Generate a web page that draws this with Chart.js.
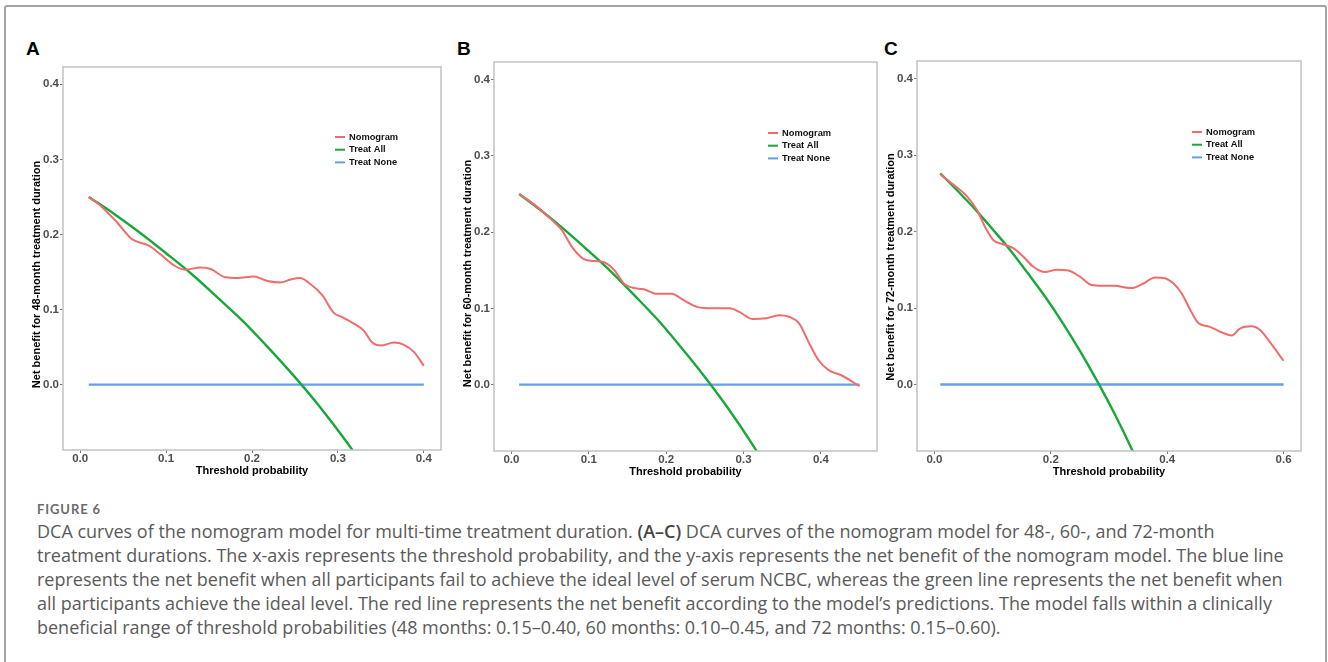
<!DOCTYPE html>
<html lang="en">
<head>
<meta charset="UTF-8">
<title>Figure 6 - DCA curves</title>
<script src="https://cdn.jsdelivr.net/npm/chart.js/dist/chart.umd.min.js"></script>
<style>
body {
    margin: 0;
    width: 1328px;
    height: 662px;
    overflow: hidden;
    background: #fff;
    position: relative;
}
.outer {
    position: absolute;
    left: 4px;
    top: 5px;
    width: 1323px;
    height: 720px;
    box-sizing: border-box;
    border: 2px solid #a3a3a3;
    border-radius: 3px;
}
canvas {
    position: absolute;
}
.tag {
    position: absolute;
    top: 39px;
    font: bold 19px/19px "Liberation Sans", Arial, sans-serif;
    color: #000;
}
.figlabel {
    position: absolute;
    left: 37px;
    top: 502px;
    font: bold 13px/15px Lato, sans-serif;
    letter-spacing: 0.9px;
    color: #6b6b6b;
}
.caption {
    position: absolute;
    left: 37px;
    top: 520px;
    font: 18px/23.9px "Open Sans", sans-serif;
    color: #5a5a5a;
    white-space: nowrap;
}
.caption b { color: #444; font-weight: 600; }
</style>
</head>
<body>
<div class="outer"></div>

<div class="tag" style="left:26px">A</div>
<div class="tag" style="left:457px">B</div>
<div class="tag" style="left:884px">C</div>

<canvas id="chartA"></canvas>
<canvas id="chartB"></canvas>
<canvas id="chartC"></canvas>

<div class="figlabel">FIGURE 6</div>
<div class="caption">
    <div>DCA curves of the nomogram model for multi-time treatment duration. <b>(A–C)</b> DCA curves of the nomogram model for 48-, 60-, and 72-month</div>
    <div>treatment durations. The x-axis represents the threshold probability, and the y-axis represents the net benefit of the nomogram model. The blue line</div>
    <div>represents the net benefit when all participants fail to achieve the ideal level of serum NCBC, whereas the green line represents the net benefit when</div>
    <div>all participants achieve the ideal level. The red line represents the net benefit according to the model’s predictions. The model falls within a clinically</div>
    <div>beneficial range of threshold probabilities (48 months: 0.15–0.40, 60 months: 0.10–0.45, and 72 months: 0.15–0.60).</div>
</div>

<script>
// ---- data ----
const legendLabels = ['Nomogram', 'Treat All', 'Treat None'];
const yTicks = [0, 0.1, 0.2, 0.3, 0.4];
const xTicksA = [0, 0.1, 0.2, 0.3, 0.4];
const xTicksB = [0, 0.1, 0.2, 0.3, 0.4];
const xTicksC = [0, 0.2, 0.4, 0.6];

// A: 48-month
const nomogramXA = [0.010, 0.023, 0.043, 0.060, 0.080, 0.093, 0.109, 0.122, 0.140, 0.152, 0.169, 0.183, 0.202, 0.218, 0.233, 0.245, 0.256, 0.268, 0.282, 0.295, 0.305, 0.319, 0.330, 0.340, 0.350, 0.365, 0.377, 0.389, 0.400];
const nomogramYA = [0.250, 0.239, 0.216, 0.194, 0.185, 0.174, 0.159, 0.153, 0.156, 0.154, 0.143, 0.142, 0.144, 0.138, 0.136, 0.140, 0.142, 0.134, 0.119, 0.096, 0.090, 0.081, 0.072, 0.056, 0.052, 0.056, 0.053, 0.043, 0.025];
const treatAllXA = [0.01, 0.04, 0.07, 0.10, 0.13, 0.16, 0.19, 0.22, 0.25, 0.28, 0.31, 0.34];
const treatAllYA = [0.250, 0.227, 0.202, 0.175, 0.147, 0.116, 0.084, 0.048, 0.010, -0.031, -0.076, -0.125];
const treatNoneXA = [0.01, 0.40];
const treatNoneYA = [0, 0];

// B: 60-month
const nomogramXB = [0.010, 0.031, 0.052, 0.065, 0.078, 0.093, 0.107, 0.118, 0.133, 0.146, 0.157, 0.171, 0.188, 0.207, 0.222, 0.240, 0.261, 0.282, 0.295, 0.312, 0.329, 0.346, 0.359, 0.372, 0.384, 0.397, 0.410, 0.427, 0.450];
const nomogramYB = [0.250, 0.235, 0.216, 0.203, 0.181, 0.165, 0.162, 0.161, 0.150, 0.132, 0.127, 0.125, 0.119, 0.119, 0.111, 0.102, 0.100, 0.100, 0.095, 0.086, 0.087, 0.091, 0.089, 0.080, 0.056, 0.032, 0.019, 0.012, -0.002];
const treatAllXB = [0.01, 0.04, 0.07, 0.10, 0.13, 0.16, 0.19, 0.22, 0.25, 0.28, 0.31, 0.34];
const treatAllYB = [0.250, 0.227, 0.202, 0.175, 0.147, 0.116, 0.084, 0.048, 0.010, -0.031, -0.076, -0.125];
const treatNoneXB = [0.01, 0.45];
const treatNoneYB = [0, 0];

// C: 72-month
const nomogramXC = [0.010, 0.033, 0.056, 0.073, 0.087, 0.101, 0.119, 0.136, 0.153, 0.170, 0.190, 0.210, 0.230, 0.250, 0.270, 0.290, 0.308, 0.339, 0.359, 0.379, 0.396, 0.411, 0.425, 0.440, 0.454, 0.471, 0.491, 0.511, 0.525, 0.545, 0.560, 0.577, 0.600];
const nomogramYC = [0.275, 0.261, 0.246, 0.228, 0.206, 0.189, 0.183, 0.178, 0.167, 0.154, 0.147, 0.150, 0.149, 0.141, 0.130, 0.129, 0.129, 0.126, 0.132, 0.140, 0.139, 0.132, 0.119, 0.097, 0.080, 0.076, 0.069, 0.064, 0.073, 0.076, 0.071, 0.055, 0.031];
const treatAllXC = [0.01, 0.04, 0.07, 0.10, 0.13, 0.16, 0.19, 0.22, 0.25, 0.28, 0.31, 0.34, 0.37];
const treatAllYC = [0.276, 0.253, 0.229, 0.203, 0.176, 0.146, 0.115, 0.081, 0.044, 0.004, -0.039, -0.086, -0.138];
const treatNoneXC = [0.01, 0.60];
const treatNoneYC = [0, 0];

const lineColors = ['#f06c6c', '#17a83a', '#629ef0'];

// ---- helpers ----
const axisFontFamily = '"Liberation Sans", Arial, sans-serif';
const tickFontY = { family: axisFontFamily, size: 11.5, weight: 'bold' };
const tickFontX = { family: axisFontFamily, size: 11.5, weight: 'bold', lineHeight: 1 };
const titleFont = { family: axisFontFamily, size: 11, weight: 'bold' };

function toPoints(xs, ys) {
    return xs.map((x, i) => ({ x: x, y: ys[i] }));
}

// grey box round the plot panel (ggplot theme_bw border)
const panelBorder = {
    id: 'panelBorder',
    afterDatasetsDraw(chart) {
        const { ctx, chartArea: a } = chart;
        ctx.save();
        ctx.strokeStyle = '#c2c2c2';
        ctx.lineWidth = 1.5;
        ctx.strokeRect(a.left, a.top, a.right - a.left, a.bottom - a.top);
        ctx.restore();
    }
};

// y title: R centres it a little lower than the panel middle
const sideTitle = {
    id: 'sideTitle',
    afterDraw(chart, args, opts) {
        const { ctx, chartArea: a } = chart;
        ctx.save();
        ctx.font = 'bold 11px ' + axisFontFamily;
        ctx.fillStyle = '#000';
        ctx.textAlign = 'center';
        ctx.textBaseline = 'middle';
        ctx.translate(a.left - 26, (a.top + a.bottom) / 2 + opts.shift);
        ctx.rotate(-Math.PI / 2);
        ctx.fillText(opts.text, 0, 0);
        ctx.restore();
    }
};

// legend drawn inside the plot area, like the R figure
const insideLegend = {
    id: 'insideLegend',
    afterDatasetsDraw(chart, args, opts) {
        const { ctx, chartArea } = chart;
        ctx.save();
        ctx.font = 'bold 9.3px ' + axisFontFamily;
        ctx.textBaseline = 'middle';
        chart.data.datasets.forEach((ds, i) => {
            const x = chartArea.left + opts.left;
            const y = chartArea.top + opts.top + i * 12.7;
            ctx.strokeStyle = ds.borderColor;
            ctx.lineWidth = 2;
            ctx.beginPath();
            ctx.moveTo(x, y);
            ctx.lineTo(x + 10, y);
            ctx.stroke();
            ctx.fillStyle = '#111';
            ctx.fillText(ds.label, x + 14, y);
        });
        ctx.restore();
    }
};

function drawPanel(id, frame, xMin, xMax, xTicks, yTitle, titleShift, series, legendAt) {
    const padL = 45, padT = 10, padR = 10, padB = 32;
    const canvas = document.getElementById(id);
    canvas.style.left = (frame.l - padL) + 'px';
    canvas.style.top = (frame.t - padT) + 'px';
    canvas.width = frame.r - frame.l + padL + padR;
    canvas.height = frame.b - frame.t + padT + padB;

    const datasets = series.map((s, i) => ({
        label: legendLabels[i],
        data: toPoints(s[0], s[1]),
        borderColor: lineColors[i],
        borderWidth: i === 0 ? 2 : 2.4,
        pointRadius: 0,
        cubicInterpolationMode: 'monotone',
        fill: false
    }));

    new Chart(canvas, {
        type: 'line',
        data: { datasets: datasets },
        options: {
            responsive: false,
            animation: false,
            devicePixelRatio: 1,
            layout: { padding: { left: 0, top: padT, right: padR, bottom: 0 } },
            plugins: {
                legend: { display: false },
                tooltip: { enabled: false },
                insideLegend: legendAt,
                sideTitle: { text: yTitle, shift: titleShift }
            },
            scales: {
                x: {
                    type: 'linear',
                    min: xMin,
                    max: xMax,
                    afterBuildTicks: s => { s.ticks = xTicks.map(v => ({ value: v })); },
                    afterFit: s => { s.height = padB; },
                    border: { display: false },
                    grid: { drawOnChartArea: false, drawTicks: true, tickLength: 3, tickColor: '#777', tickWidth: 1 },
                    ticks: { padding: 0, color: '#4d4d4d', font: tickFontX, maxRotation: 0, callback: v => v.toFixed(1) },
                    title: { display: true, text: 'Threshold probability', color: '#000', font: titleFont, padding: { top: 0, bottom: 4.9 } }
                },
                y: {
                    type: 'linear',
                    min: -0.087,
                    max: 0.423,
                    afterBuildTicks: s => { s.ticks = yTicks.map(v => ({ value: v })); },
                    afterFit: s => { s.width = padL; },
                    border: { display: false },
                    grid: { drawOnChartArea: false, drawTicks: true, tickLength: 3, tickColor: '#777', tickWidth: 1 },
                    ticks: { padding: 1, color: '#4d4d4d', font: tickFontY, callback: v => v.toFixed(1) }
                }
            }
        },
        plugins: [panelBorder, insideLegend, sideTitle]
    });
}

drawPanel('chartA', { l: 63, t: 67, r: 441, b: 450 }, -0.02, 0.42, xTicksA,
    'Net benefit for 48-month treatment duration', 16,
    [[nomogramXA, nomogramYA], [treatAllXA, treatAllYA], [treatNoneXA, treatNoneYA]],
    { left: 272, top: 70 });

drawPanel('chartB', { l: 494, t: 62, r: 877, b: 451 }, -0.0225, 0.4725, xTicksB,
    'Net benefit for 60-month treatment duration', 17,
    [[nomogramXB, nomogramYB], [treatAllXB, treatAllYB], [treatNoneXB, treatNoneYB]],
    { left: 274, top: 71 });

drawPanel('chartC', { l: 917, t: 61, r: 1301, b: 451 }, -0.03, 0.63, xTicksC,
    'Net benefit for 72-month treatment duration', 11,
    [[nomogramXC, nomogramYC], [treatAllXC, treatAllYC], [treatNoneXC, treatNoneYC]],
    { left: 275, top: 71 });
</script>
</body>
</html>
